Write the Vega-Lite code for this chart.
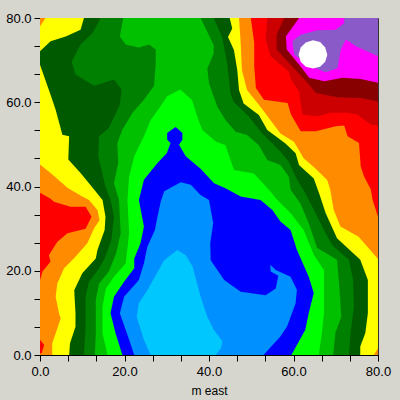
{"$schema":"https://vega.github.io/schema/vega-lite/v6.json","width":338,"height":337,"autosize":{"type":"none"},"padding":{"left":40,"top":18,"right":22,"bottom":45},"background":"#d6d5ce","view":{"stroke":"#333","strokeWidth":1},
"data":{"values":[
{"r":"base","x":0,"y":0},{"r":"base","x":80,"y":0},{"r":"base","x":80,"y":80},{"r":"base","x":0,"y":80},
{"r":"redL","x":0,"y":38.5},{"r":"redL","x":2.5,"y":37.1},{"r":"redL","x":3.3,"y":36.4},{"r":"redL","x":7.2,"y":35.2},{"r":"redL","x":10.8,"y":35.2},{"r":"redL","x":12.2,"y":32.8},{"r":"redL","x":10.8,"y":30},{"r":"redL","x":6.5,"y":28.9},{"r":"redL","x":4.1,"y":26.9},{"r":"redL","x":2.1,"y":23.7},{"r":"redL","x":2.5,"y":22.2},{"r":"redL","x":0.6,"y":19.8},{"r":"redL","x":0,"y":17.8},
{"r":"redB","x":0,"y":3.6},{"r":"redB","x":1,"y":2.4},{"r":"redB","x":0.4,"y":0.5},{"r":"redB","x":0,"y":0.3},
{"r":"redT","x":49.9,"y":80},{"r":"redT","x":50.7,"y":74.1},{"r":"redT","x":50.7,"y":68.5},{"r":"redT","x":51.1,"y":63.4},{"r":"redT","x":53,"y":60.6},{"r":"redT","x":58.6,"y":59.8},{"r":"redT","x":59.4,"y":57.1},{"r":"redT","x":61.7,"y":53.1},{"r":"redT","x":65.3,"y":53.1},{"r":"redT","x":70,"y":54.3},{"r":"redT","x":72,"y":54.5},{"r":"redT","x":72.8,"y":51.9},{"r":"redT","x":75.5,"y":50.3},{"r":"redT","x":75.9,"y":44.8},{"r":"redT","x":76.7,"y":42.4},{"r":"redT","x":78.3,"y":39.3},{"r":"redT","x":78.7,"y":36.9},{"r":"redT","x":80,"y":32.8},{"r":"redT","x":80,"y":80},
{"r":"crimson","x":53.8,"y":80},{"r":"crimson","x":53.4,"y":74.9},{"r":"crimson","x":54.6,"y":70.9},{"r":"crimson","x":58.9,"y":67.3},{"r":"crimson","x":59.4,"y":65.4},{"r":"crimson","x":61.3,"y":62.6},{"r":"crimson","x":62.1,"y":57.1},{"r":"crimson","x":65.7,"y":56.7},{"r":"crimson","x":68.8,"y":57.5},{"r":"crimson","x":72.8,"y":57.5},{"r":"crimson","x":75.1,"y":57.1},{"r":"crimson","x":78.3,"y":54.7},{"r":"crimson","x":80,"y":54.4},{"r":"crimson","x":80,"y":80},
{"r":"darkred","x":57.8,"y":80},{"r":"darkred","x":56,"y":76},{"r":"darkred","x":56,"y":72.5},{"r":"darkred","x":59.3,"y":68.9},{"r":"darkred","x":63.3,"y":64.6},{"r":"darkred","x":65.3,"y":62.2},{"r":"darkred","x":70.4,"y":61.2},{"r":"darkred","x":75.9,"y":61},{"r":"darkred","x":80,"y":60.2},{"r":"darkred","x":80,"y":80},
{"r":"magenta","x":61.3,"y":80},{"r":"magenta","x":58.2,"y":75.6},{"r":"magenta","x":58.4,"y":72.5},{"r":"magenta","x":61.7,"y":68.5},{"r":"magenta","x":63.7,"y":65.8},{"r":"magenta","x":67.3,"y":65},{"r":"magenta","x":71.6,"y":65.8},{"r":"magenta","x":75.9,"y":65.5},{"r":"magenta","x":80,"y":64.6},{"r":"magenta","x":80,"y":80},
{"r":"purple","x":72,"y":80},{"r":"purple","x":72,"y":78.8},{"r":"purple","x":70,"y":77.2},{"r":"purple","x":65.7,"y":77.1},{"r":"purple","x":61.7,"y":76},{"r":"purple","x":59.7,"y":74.5},{"r":"purple","x":60.2,"y":71.3},{"r":"purple","x":63.3,"y":68.9},{"r":"purple","x":67.6,"y":67.1},{"r":"purple","x":70.4,"y":68.1},{"r":"purple","x":71.2,"y":72.5},{"r":"purple","x":72.4,"y":74.9},{"r":"purple","x":74.8,"y":73.3},{"r":"purple","x":80,"y":70.9},{"r":"purple","x":80,"y":80},
{"r":"white","x":64.6,"y":74.7},{"r":"white","x":66.3,"y":74.3},{"r":"white","x":67.5,"y":73},{"r":"white","x":68,"y":71.3},{"r":"white","x":67.5,"y":69.6},{"r":"white","x":66.3,"y":68.4},{"r":"white","x":64.6,"y":68},{"r":"white","x":62.9,"y":68.4},{"r":"white","x":61.7,"y":69.6},{"r":"white","x":61.2,"y":71.3},{"r":"white","x":61.7,"y":73},{"r":"white","x":62.9,"y":74.2},
{"r":"yellow","x":0,"y":45.2},{"r":"yellow","x":2.5,"y":43.2},{"r":"yellow","x":6.5,"y":39.7},{"r":"yellow","x":10,"y":37.6},{"r":"yellow","x":11.6,"y":36.8},{"r":"yellow","x":13.6,"y":34.4},{"r":"yellow","x":14.1,"y":32},{"r":"yellow","x":12.8,"y":30.1},{"r":"yellow","x":11.2,"y":26.5},{"r":"yellow","x":8.4,"y":23.3},{"r":"yellow","x":5.7,"y":20.6},{"r":"yellow","x":4.1,"y":17},{"r":"yellow","x":3.7,"y":13.8},{"r":"yellow","x":4.5,"y":9.9},{"r":"yellow","x":4.9,"y":8.7},{"r":"yellow","x":3.7,"y":5.1},{"r":"yellow","x":2.9,"y":2.8},{"r":"yellow","x":2.9,"y":0},{"r":"yellow","x":79,"y":0},{"r":"yellow","x":80,"y":1.6},{"r":"yellow","x":80,"y":22.8},{"r":"yellow","x":75.4,"y":28.1},{"r":"yellow","x":71.1,"y":30.5},{"r":"yellow","x":69.5,"y":34.5},{"r":"yellow","x":68.7,"y":39.2},{"r":"yellow","x":68,"y":41.5},{"r":"yellow","x":65.2,"y":44.3},{"r":"yellow","x":62.4,"y":46.7},{"r":"yellow","x":60.1,"y":50.6},{"r":"yellow","x":56.9,"y":52.6},{"r":"yellow","x":54.2,"y":56.2},{"r":"yellow","x":52.2,"y":58.9},{"r":"yellow","x":49,"y":62.9},{"r":"yellow","x":47.8,"y":67.6},{"r":"yellow","x":47.5,"y":74},{"r":"yellow","x":47.1,"y":80},{"r":"yellow","x":1.3,"y":80},{"r":"yellow","x":0,"y":78},
{"r":"dgreen","x":10.4,"y":80},{"r":"dgreen","x":9.6,"y":77.2},{"r":"dgreen","x":6.1,"y":75.6},{"r":"dgreen","x":2.5,"y":74.5},{"r":"dgreen","x":0,"y":72.1},{"r":"dgreen","x":0,"y":68.9},{"r":"dgreen","x":2.5,"y":61.8},{"r":"dgreen","x":3.7,"y":58.2},{"r":"dgreen","x":5.3,"y":52.3},{"r":"dgreen","x":6.9,"y":51.9},{"r":"dgreen","x":6.7,"y":46.4},{"r":"dgreen","x":9.6,"y":43.2},{"r":"dgreen","x":12.8,"y":39.3},{"r":"dgreen","x":14.8,"y":36.8},{"r":"dgreen","x":15.5,"y":32.8},{"r":"dgreen","x":15.3,"y":29.7},{"r":"dgreen","x":13.6,"y":24.9},{"r":"dgreen","x":13.2,"y":22.9},{"r":"dgreen","x":10,"y":19.4},{"r":"dgreen","x":8.1,"y":15.4},{"r":"dgreen","x":8.4,"y":9.9},{"r":"dgreen","x":8.4,"y":6.7},{"r":"dgreen","x":7.1,"y":2.8},{"r":"dgreen","x":6.9,"y":0},{"r":"dgreen","x":75.8,"y":0},{"r":"dgreen","x":75.8,"y":2},{"r":"dgreen","x":77,"y":5.2},{"r":"dgreen","x":77.6,"y":9.9},{"r":"dgreen","x":77.6,"y":17.8},{"r":"dgreen","x":75.8,"y":22.6},{"r":"dgreen","x":70.3,"y":27.7},{"r":"dgreen","x":67.6,"y":33.7},{"r":"dgreen","x":66.2,"y":38},{"r":"dgreen","x":64.8,"y":41.9},{"r":"dgreen","x":61.3,"y":45.1},{"r":"dgreen","x":60.5,"y":47.9},{"r":"dgreen","x":58.1,"y":50.2},{"r":"dgreen","x":53.8,"y":53.4},{"r":"dgreen","x":51.8,"y":57},{"r":"dgreen","x":48.2,"y":59.7},{"r":"dgreen","x":47.1,"y":62.9},{"r":"dgreen","x":46.7,"y":67.6},{"r":"dgreen","x":45.9,"y":72.4},{"r":"dgreen","x":44.5,"y":75.5},{"r":"dgreen","x":45.5,"y":77.5},{"r":"dgreen","x":44.9,"y":80},
{"r":"green","x":14.4,"y":80},{"r":"green","x":12.4,"y":76.4},{"r":"green","x":9.6,"y":73.7},{"r":"green","x":7.5,"y":69.7},{"r":"green","x":8.4,"y":66.6},{"r":"green","x":12.8,"y":63.9},{"r":"green","x":17.5,"y":65.4},{"r":"green","x":19.3,"y":63},{"r":"green","x":18.9,"y":59.4},{"r":"green","x":16.3,"y":53.9},{"r":"green","x":14,"y":51.9},{"r":"green","x":13.8,"y":47.2},{"r":"green","x":15.5,"y":40},{"r":"green","x":16.7,"y":36.8},{"r":"green","x":17.5,"y":32.8},{"r":"green","x":16.9,"y":27.3},{"r":"green","x":15.3,"y":22.9},{"r":"green","x":14,"y":20.6},{"r":"green","x":11.6,"y":17.4},{"r":"green","x":10.8,"y":13.8},{"r":"green","x":10.8,"y":6.7},{"r":"green","x":10.4,"y":0},{"r":"green","x":73.1,"y":0},{"r":"green","x":73.5,"y":5.2},{"r":"green","x":74.3,"y":11.5},{"r":"green","x":74.1,"y":17.8},{"r":"green","x":73.1,"y":22.6},{"r":"green","x":69.1,"y":26.2},{"r":"green","x":67.2,"y":29.7},{"r":"green","x":64.8,"y":34.5},{"r":"green","x":63,"y":38},{"r":"green","x":60.5,"y":42.3},{"r":"green","x":58.9,"y":45.9},{"r":"green","x":56.9,"y":48.3},{"r":"green","x":52.6,"y":52.6},{"r":"green","x":49.4,"y":56.6},{"r":"green","x":45.8,"y":60.1},{"r":"green","x":45.1,"y":62.1},{"r":"green","x":44.3,"y":69.2},{"r":"green","x":43.1,"y":75.5},{"r":"green","x":41.1,"y":80},
{"r":"med","x":19.7,"y":80},{"r":"med","x":18.9,"y":75.6},{"r":"med","x":20.3,"y":73.7},{"r":"med","x":23.4,"y":73},{"r":"med","x":25.8,"y":73.7},{"r":"med","x":27.4,"y":72.5},{"r":"med","x":27.4,"y":69.3},{"r":"med","x":27,"y":63.9},{"r":"med","x":24.6,"y":60.6},{"r":"med","x":21.9,"y":57.5},{"r":"med","x":19.5,"y":53.5},{"r":"med","x":18.3,"y":50.3},{"r":"med","x":18.5,"y":45.6},{"r":"med","x":17.5,"y":40.8},{"r":"med","x":18.7,"y":36.8},{"r":"med","x":19.1,"y":28.9},{"r":"med","x":18,"y":24.1},{"r":"med","x":16.3,"y":19.8},{"r":"med","x":14,"y":17},{"r":"med","x":13.2,"y":13.1},{"r":"med","x":13.2,"y":5.1},{"r":"med","x":13,"y":0},{"r":"med","x":69.4,"y":0},{"r":"med","x":69.9,"y":5.2},{"r":"med","x":71.3,"y":9.1},{"r":"med","x":70.9,"y":15.5},{"r":"med","x":70.3,"y":22.6},{"r":"med","x":65.6,"y":25.4},{"r":"med","x":63.6,"y":31.3},{"r":"med","x":61.6,"y":36},{"r":"med","x":59.3,"y":39.2},{"r":"med","x":58.9,"y":42.3},{"r":"med","x":56.9,"y":45.1},{"r":"med","x":53.8,"y":46.3},{"r":"med","x":51.8,"y":49.8},{"r":"med","x":49,"y":52.2},{"r":"med","x":46.3,"y":53},{"r":"med","x":43.9,"y":55.8},{"r":"med","x":42,"y":58.9},{"r":"med","x":40,"y":64.5},{"r":"med","x":39.6,"y":68},{"r":"med","x":41.1,"y":71.6},{"r":"med","x":41.1,"y":73.6},{"r":"med","x":38,"y":80},
{"r":"lime","x":33.2,"y":63},{"r":"lime","x":30.1,"y":61.4},{"r":"lime","x":28.5,"y":59},{"r":"lime","x":26.2,"y":55.8},{"r":"lime","x":24.6,"y":51.9},{"r":"lime","x":22.3,"y":47.2},{"r":"lime","x":21.1,"y":42.4},{"r":"lime","x":20.7,"y":36.8},{"r":"lime","x":21.1,"y":28.9},{"r":"lime","x":20.3,"y":21.8},{"r":"lime","x":17.5,"y":18.6},{"r":"lime","x":15.6,"y":15.8},{"r":"lime","x":14.8,"y":11.5},{"r":"lime","x":14.8,"y":5.1},{"r":"lime","x":16,"y":0},{"r":"lime","x":66,"y":0},{"r":"lime","x":66.8,"y":6},{"r":"lime","x":67.2,"y":9.9},{"r":"lime","x":67.2,"y":20.2},{"r":"lime","x":64.8,"y":23.8},{"r":"lime","x":62.4,"y":29.7},{"r":"lime","x":59.3,"y":33.7},{"r":"lime","x":56,"y":37},{"r":"lime","x":54.2,"y":39.2},{"r":"lime","x":50.6,"y":43.1},{"r":"lime","x":45.9,"y":43.9},{"r":"lime","x":43.9,"y":49.8},{"r":"lime","x":41.6,"y":50.7},{"r":"lime","x":38.4,"y":53.4},{"r":"lime","x":37.2,"y":56.6},{"r":"lime","x":36,"y":60.5},
{"r":"blue","x":32.1,"y":54.1},{"r":"blue","x":30.1,"y":52.7},{"r":"blue","x":30.1,"y":51.1},{"r":"blue","x":30.9,"y":50.3},{"r":"blue","x":30,"y":47.9},{"r":"blue","x":27.8,"y":45.6},{"r":"blue","x":24.6,"y":41.6},{"r":"blue","x":23.4,"y":36.8},{"r":"blue","x":24.6,"y":30.5},{"r":"blue","x":23.8,"y":26.5},{"r":"blue","x":22.3,"y":22.9},{"r":"blue","x":22.3,"y":20.6},{"r":"blue","x":19.9,"y":17.4},{"r":"blue","x":17.5,"y":13.8},{"r":"blue","x":16.7,"y":9.9},{"r":"blue","x":17.9,"y":5.1},{"r":"blue","x":19.5,"y":0},{"r":"blue","x":59.5,"y":0},{"r":"blue","x":62.8,"y":6},{"r":"blue","x":63.6,"y":9.9},{"r":"blue","x":64.8,"y":14.7},{"r":"blue","x":63.6,"y":18.6},{"r":"blue","x":60.8,"y":25},{"r":"blue","x":59.3,"y":29.7},{"r":"blue","x":56.9,"y":31.7},{"r":"blue","x":55,"y":34.4},{"r":"blue","x":52.2,"y":36.8},{"r":"blue","x":47.5,"y":37.6},{"r":"blue","x":43.9,"y":39.6},{"r":"blue","x":41.2,"y":40.8},{"r":"blue","x":38,"y":44.2},{"r":"blue","x":34.5,"y":47.2},{"r":"blue","x":32.9,"y":49.9},{"r":"blue","x":33.7,"y":51.1},{"r":"blue","x":33.7,"y":52.7},
{"r":"mid","x":33.3,"y":41},{"r":"mid","x":35.7,"y":40.4},{"r":"mid","x":38,"y":38},{"r":"mid","x":40,"y":36.8},{"r":"mid","x":41,"y":31.3},{"r":"mid","x":40.3,"y":26.5},{"r":"mid","x":40.4,"y":22.5},{"r":"mid","x":43.6,"y":17.8},{"r":"mid","x":47.5,"y":15},{"r":"mid","x":53.4,"y":14.2},{"r":"mid","x":55.8,"y":15.8},{"r":"mid","x":56.4,"y":18.8},{"r":"mid","x":54.6,"y":19.8},{"r":"mid","x":54.5,"y":21.4},{"r":"mid","x":55.8,"y":20.2},{"r":"mid","x":59.3,"y":18.6},{"r":"mid","x":60.8,"y":15.5},{"r":"mid","x":60.5,"y":12.3},{"r":"mid","x":58.5,"y":6.8},{"r":"mid","x":56.9,"y":4.4},{"r":"mid","x":52.9,"y":0},{"r":"mid","x":22.3,"y":0},{"r":"mid","x":21.1,"y":3.6},{"r":"mid","x":18.9,"y":9.9},{"r":"mid","x":19.9,"y":13.8},{"r":"mid","x":23.4,"y":17.8},{"r":"mid","x":24.6,"y":21.8},{"r":"mid","x":25.4,"y":25.7},{"r":"mid","x":27.2,"y":29.7},{"r":"mid","x":27.8,"y":32.8},{"r":"mid","x":28.6,"y":36.5},{"r":"mid","x":29.4,"y":38.9},
{"r":"light","x":32.5,"y":24.9},{"r":"light","x":29.4,"y":22.5},{"r":"light","x":25.4,"y":15.4},{"r":"light","x":23.4,"y":12.3},{"r":"light","x":22.9,"y":9.1},{"r":"light","x":24.6,"y":3.6},{"r":"light","x":26.2,"y":0},{"r":"light","x":41.6,"y":0},{"r":"light","x":42.8,"y":1.6},{"r":"light","x":43.2,"y":3.2},{"r":"light","x":41.2,"y":5.9},{"r":"light","x":39.6,"y":9.1},{"r":"light","x":38,"y":13.9},{"r":"light","x":36.1,"y":21},{"r":"light","x":34.5,"y":23.7}
]},
"mark":{"type":"line","interpolate":"linear-closed","strokeWidth":0,"clip":true},
"encoding":{
"x":{"field":"x","type":"quantitative","scale":{"domain":[0,80],"nice":false},"axis":{"title":"m east","grid":false,"values":[0,6.667,13.333,20,26.667,33.333,40,46.667,53.333,60,66.667,73.333,80],"labelExpr":"datum.value%20==0?format(datum.value,'.1f'):''","tickSize":6,"tickColor":"#000","domainColor":"#000","labelColor":"#000","titleColor":"#000","labelFont":"Liberation Sans","titleFont":"Liberation Sans","labelFontSize":13,"titleFontSize":12,"titleFontWeight":"normal","labelPadding":4,"titlePadding":7,"labelOverlap":false,"labelFlush":false,"labelBound":false}},
"y":{"field":"y","type":"quantitative","scale":{"domain":[0,80],"nice":false},"axis":{"title":null,"grid":false,"values":[0,6.667,13.333,20,26.667,33.333,40,46.667,53.333,60,66.667,73.333,80],"labelExpr":"datum.value%20==0?format(datum.value,'.1f'):''","tickSize":6,"tickColor":"#000","domainColor":"#000","labelColor":"#000","labelFont":"Liberation Sans","labelFontSize":13,"labelPadding":3,"labelOverlap":false,"labelFlush":false,"labelBound":false}},
"fill":{"field":"r","type":"nominal","legend":null,"scale":{"domain":["base","redL","redB","redT","crimson","darkred","magenta","purple","white","yellow","dgreen","green","med","lime","blue","mid","light"],"range":["#ff8c00","#ff0000","#ff0000","#ff0000","#cc0000","#880000","#ff00ff","#8a5ac8","#ffffff","#ffff00","#005a00","#008000","#00c000","#00ff00","#0000ff","#0090ff","#00c8ff"]}},
"detail":{"field":"r"},
"order":{"value":null}
}}
